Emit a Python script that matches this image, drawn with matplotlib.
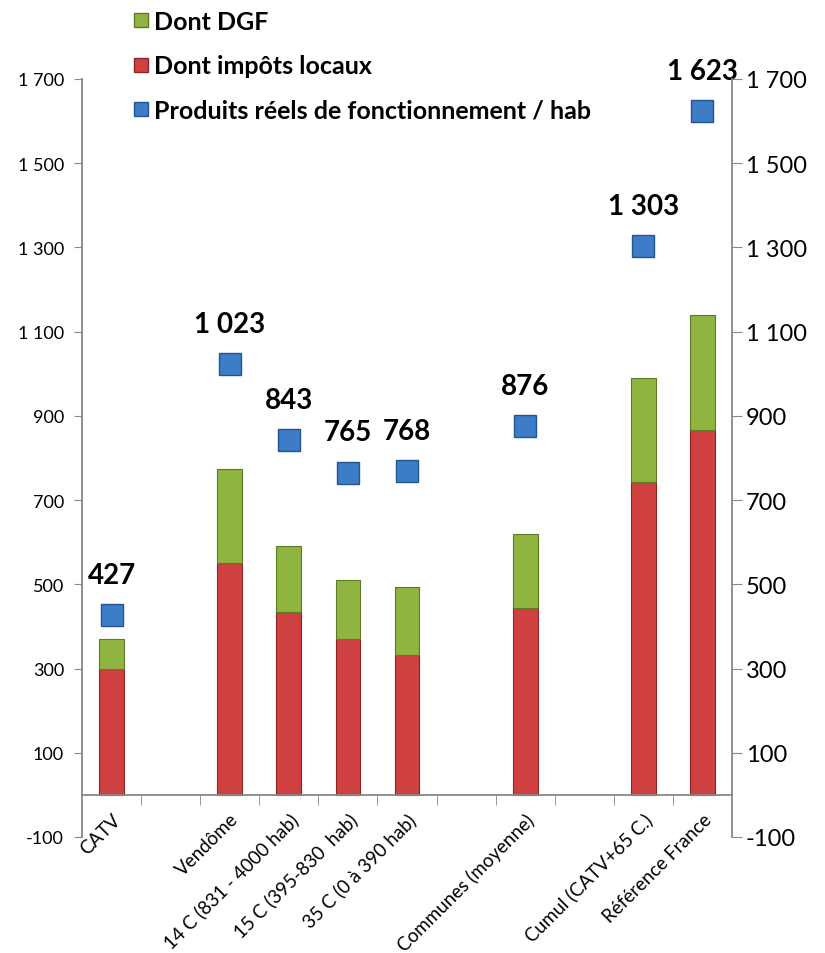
import matplotlib.pyplot as plt
from matplotlib.lines import Line2D
import numpy as np

plt.rcParams['font.family'] = ['Lato', 'DejaVu Sans']

# slots with '' are empty gaps in the original chart
categories = ['CATV', '', 'Vendôme', '14 C (831 - 4000 hab)', '15 C (395-830  hab)',
              '35 C (0 à 390 hab)', '', 'Communes (moyenne)', '', 'Cumul (CATV+65 C.)',
              'Référence France']
impots = [300, None, 550, 434, 370, 332, None, 444, None, 742, 866]
dgf = [70, None, 223, 157, 140, 161, None, 175, None, 247, 273]
produits = [427, None, 1023, 843, 765, 768, None, 876, None, 1303, 1623]
yticks = [-100, 100, 300, 500, 700, 900, 1100, 1300, 1500, 1700]

red, red_edge = '#cf4040', '#8e2626'
green, green_edge = '#8fb43f', '#5d7a25'
blue, blue_edge = '#3d7cc6', '#25558f'

x = np.arange(len(categories))
used = [i for i, c in enumerate(categories) if c]
imp = np.array([impots[i] for i in used], dtype=float)
dg = np.array([dgf[i] for i in used], dtype=float)
prod = [produits[i] for i in used]
xu = x[used]

fmt = lambda v: f'{v:,}'.replace(',', ' ')

fig = plt.figure(figsize=(8.25, 9.54), dpi=100)
ax = fig.add_axes([82 / 825, 1 - 838 / 954, 650 / 825, 758 / 954])

# spine position first: set_position resets the ticks
ax.spines['bottom'].set_position(('data', 0))
for s in ['top', 'right']:
    ax.spines[s].set_visible(False)
for s in ['left', 'bottom']:
    ax.spines[s].set_color('#888888')
    ax.spines[s].set_linewidth(1.3)

ax.bar(xu, imp, width=0.42, color=red, edgecolor=red_edge, linewidth=0.8, zorder=2)
ax.bar(xu, dg, bottom=imp, width=0.42, color=green, edgecolor=green_edge, linewidth=0.8, zorder=2)
ax.plot(xu, prod, ls='none', marker='s', markersize=16, color=blue,
        markeredgecolor=blue_edge, markeredgewidth=1, zorder=3)

for xi, v in zip(xu, prod):
    ax.annotate(fmt(v), (xi, v), xytext=(0, 29), textcoords='offset points',
                ha='center', va='center', fontsize=20, fontweight='bold', zorder=4)

ax.set_xlim(-0.5, len(categories) - 0.5)
ax.set_ylim(-100, 1700)

ax.tick_params(axis='x', which='major', length=0, pad=11)
ax.tick_params(axis='x', which='minor', length=7, color='#888888', direction='out')
ax.tick_params(axis='y', length=6, color='#888888', pad=7)

ax.set_yticks(yticks)
ax.set_yticklabels([fmt(v) for v in yticks], fontsize=13)
ax.set_xticks(xu)
ax.set_xticklabels([categories[i] for i in used], rotation=45, ha='right', va='top',
                   rotation_mode='anchor', fontsize=13.5)
ax.set_xticks(np.arange(0.5, len(categories) - 0.5, 1), minor=True)

ax2 = ax.twinx()
ax2.set_ylim(-100, 1700)
ax2.tick_params(axis='y', length=7, color='#888888', pad=3)
ax2.set_yticks(yticks)
ax2.set_yticklabels([fmt(v) for v in yticks], fontsize=17)
for s in ['top', 'left', 'bottom']:
    ax2.spines[s].set_visible(False)
ax2.spines['right'].set_color('#888888')
ax2.spines['right'].set_linewidth(1.3)

handles = [
    Line2D([], [], ls='none', marker='s', markersize=10, color=green, markeredgecolor=green_edge),
    Line2D([], [], ls='none', marker='s', markersize=10, color=red, markeredgecolor=red_edge),
    Line2D([], [], ls='none', marker='s', markersize=10, color=blue, markeredgecolor=blue_edge),
]
labels = ['Dont DGF', 'Dont impôts locaux', 'Produits réels de fonctionnement / hab']
fig.legend(handles, labels, loc='upper left', bbox_to_anchor=(118 / 825, 1 - 1 / 954),
           frameon=False, prop={'weight': 'bold', 'size': 18}, labelspacing=0.85,
           handletextpad=0.05, handlelength=1.0, borderaxespad=0)

fig.savefig('out.png', dpi=100)
